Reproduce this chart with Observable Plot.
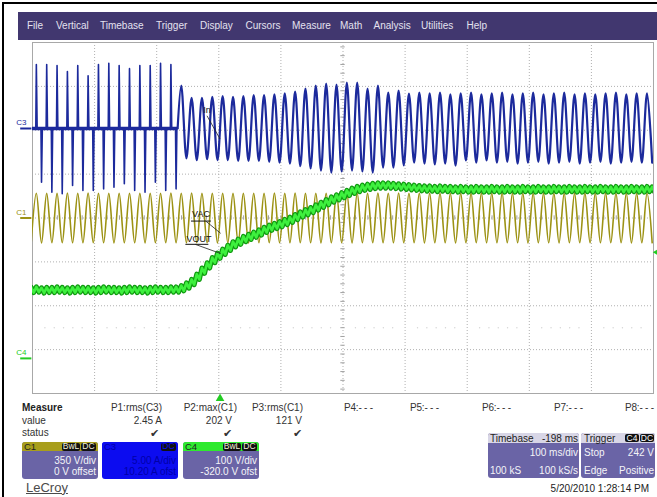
<!DOCTYPE html>
<html><head><meta charset="utf-8">
<script src="https://cdn.jsdelivr.net/npm/d3@7"></script>
<script src="https://cdn.jsdelivr.net/npm/@observablehq/plot@0.6"></script>
<style>
body{margin:0;background:#fff;font-family:"Liberation Sans",Arial,sans-serif;}
#page{position:relative;width:657px;height:497px;overflow:hidden;background:#fff;}
#page svg{position:absolute;left:0;top:0;}
</style></head><body><div id="page"></div>
<script>
// ---------- scope settings ----------
const menuItems = ["File","Vertical","Timebase","Trigger","Display","Cursors","Measure","Math","Analysis","Utilities","Help"];
const chName = ["C1","C3","C4"];
const chPerDiv = [350, 5, 100];          // V/div, A/div, V/div
const chOffset = [0, 10.2, -320];        // offsets
const chUnitPerDiv = ["350 V/div","5.00 A/div","100 V/div"];
const chOffsetText = ["0 V offset","10.20 A ofst","-320.0 V ofst"];
const timebaseDelayMs = -198;
const timePerDivMs = 100;
const mainsPeriodMs = 16.667;            // 60 Hz line
const firstPeakMs = 6.2;                 // first positive peak of VAC on screen
const triggerLevelV = 242;
const measureNames = ["P1:rms(C3)","P2:max(C1)","P3:rms(C1)","P4:- - -","P5:- - -","P6:- - -","P7:- - -","P8:- - -"];
const measureValues = ["2.45 A","202 V","121 V"];

// ---------- traces (one value per half cycle, k = -1 .. 119) ----------
// C1 VAC extremes (V)
const c1Peaks = [
-198,198,-199,197,-198,198,-197,199,-198,198,
-198,199,-197,198,-198,197,-199,198,-198,198,
-198,198,-199,197,-198,198,-197,199,-198,198,
-198,199,-197,198,-198,197,-199,198,-198,198,
-198,198,-199,197,-198,198,-197,199,-198,198,
-198,199,-197,198,-198,197,-199,198,-198,198,
-198,198,-199,197,-198,198,-197,199,-198,198,
-198,199,-197,198,-198,197,-199,198,-198,198,
-198,198,-199,197,-198,198,-197,199,-198,198,
-198,199,-197,198,-198,197,-199,198,-198,198,
-198,198,-199,197,-198,198,-197,199,-198,198,
-198,199,-197,198,-198,197,-199,198,-198,198,
-198];
// C3 input current: rectifier spikes before PFC start, k = 0 .. 27 (A)
const c3Spikes = [7.28,-6.12,7.28,-7.26,7.17,-7.44,6.5,-6.5,7.17,-7.07,
6.0,-7.07,7.28,-6.88,7.43,-6.69,7.17,-6.3,6.82,-7.07,
7.17,-7.26,7.17,-6.12,7.43,-7.07,7.28,-6.88];
// C3 input current with PFC running, k = 28 .. 119 (A)
const c3Wave = [
4.9,-3.4,3.5,-3.6,3.5,-3.5,3.6,-3.6,3.7,-3.6,
3.6,-3.7,3.7,-3.7,3.8,-3.7,3.8,-3.8,3.9,-3.9,
4.0,-4.0,4.2,-4.3,4.55,-4.56,4.89,-4.8,5.12,-5.02,
5.0,-4.9,5.23,-4.79,5.23,-4.9,4.55,-5.02,4.89,-4.45,
4.09,-4.45,4.32,-4.2,3.98,-3.88,4.09,-4.0,4.0,-4.1,
4.1,-4.0,3.9,-4.22,4.0,-3.65,4.1,-3.9,3.9,-3.65,
4.0,-3.9,4.1,-3.8,3.9,-4.0,4.0,-3.9,4.1,-3.8,
3.9,-4.0,4.0,-3.9,4.1,-3.8,3.9,-4.0,4.0,-3.9,
3.9,-3.8,4.0,-4.0,4.1,-3.9,3.9,-3.8,4.0,-3.9,
4.0,-3.9];
// C4 VOUT mean level per half cycle (V)
const c4Level = [
156,157,155,156,156,157,156,155,156,157,
156,156,155,156,157,156,156,155,156,157,
156,156,155,156,157,156,156,157,
157,160,166,174,186,200,212,224,234,243,
252,260,266,272,277,282,287,293,298,302,
306,311,316,322,328,333,338,344,350,356,
362,367,372,377,382,386,389,391,393,394,
394,394,393,392,391,390,389,388,
387,387,386,387,386,386,385,386,385,385,
386,385,385,386,385,385,386,385,385,386,
385,385,386,385,385,386,385,385,386,385,
385,386,385,385,386,385,385,386,385,385,
386,385,385,386,385];
const c4RipplePP = 12;

// ---------- derived ----------
const halfMs = mainsPeriodMs / 2;
const tAt = k => firstPeakMs + k * halfMs;
const toDiv = (v, ch) => (v + chOffset[ch]) / chPerDiv[ch];
const xMax = timePerDivMs * 10;

const c1Data = c1Peaks.map((v, i) => ({t: tAt(i - 1), d: toDiv(v, 0)}));

const c3Pre = [{t: 0, d: toDiv(0, 1)}];
c3Spikes.forEach((v, i) => {
  const t = tAt(i);
  c3Pre.push({t: t - 0.9, d: toDiv(0, 1)}, {t, d: toDiv(v, 1)}, {t: t + 1.3, d: toDiv(0, 1)});
});
c3Pre.push({t: tAt(27) + 2.5, d: toDiv(0, 1)});
const c3Post = [{t: tAt(27) + 2.5, d: toDiv(0, 1)}].concat(c3Wave.map((v, i) => ({t: tAt(28 + i), d: toDiv(v, 1)})));

const c4Data = [];
c4Level.forEach((v, i) => {
  const t = tAt(i - 1);
  c4Data.push({t, d: toDiv(v + c4RipplePP / 2, 2)}, {t: t + halfMs / 2, d: toDiv(v - c4RipplePP / 2, 2)});
});

const gridX = d3.range(1, 10).map(i => i * timePerDivMs);
const gridY = d3.range(-3, 4);
const minorY = d3.range(-39, 40, 2).map(i => i / 10);
const minorX = d3.range(1, 50).map(i => i * timePerDivMs / 5);
// faint screen pattern row between the lower grid lines
const faintDots = d3.range(0, 10).flatMap(i => [0.2, 0.35, 0.5, 0.65, 0.8].map(f => (i + f) * timePerDivMs));

const grounds = [0, 1, 2].map(ch => ({ch, d: toDiv(0, ch)}));
const chColor = ["#9c9214", "#1c2a9c", "#22cc22"];

const annotations = [
  {label: "In", t: 275, d: 2.45, lt1: 281, ld1: 2.33, lt2: 302, ld2: 1.8},
  {label: "VAC", t: 257, d: 0.1, ut1: 256, ut2: 288, ud: -0.07, lt1: 279, ld1: -0.07, lt2: 303, ld2: -0.35},
  {label: "VOUT", t: 248, d: -0.49, ut1: 247, ut2: 284, ud: -0.6, lt1: 262, ld1: -0.6, lt2: 303, ld2: -0.81}
];

const chart = Plot.plot({
  width: 657, height: 400,
  marginLeft: 32, marginRight: 4, marginTop: 42, marginBottom: 7,
  x: {domain: [0, xMax], axis: null},
  y: {domain: [-4, 4], axis: null},
  style: {background: "transparent", fontFamily: "Liberation Sans, Arial, sans-serif", overflow: "visible"},
  marks: [
    Plot.ruleX(gridX, {stroke: "#b0b0b0", strokeDasharray: "1,2", strokeWidth: 1}),
    Plot.ruleY(gridY, {stroke: "#b0b0b0", strokeDasharray: "1,2", strokeWidth: 1}),
    Plot.ruleY(minorY, {x1: xMax / 2 - 3.5, x2: xMax / 2 + 3.5, stroke: "#a0a0a0"}),
    Plot.ruleX(minorX, {y1: -0.05, y2: 0.05, stroke: "#a0a0a0"}),
    Plot.dot(faintDots, {x: d => d, y: -2.5, r: 0.7, fill: "#d4d4d4", stroke: null}),
    Plot.frame({stroke: "#a8a8a8"}),
    Plot.line(c1Data, {x: "t", y: "d", curve: "catmull-rom", stroke: chColor[0], strokeWidth: 1.6, clip: true}),
    Plot.ruleY([toDiv(0, 1)], {x1: 0, x2: tAt(27) + 2.5, stroke: chColor[1], strokeWidth: 3.5}),
    Plot.line(c3Pre, {x: "t", y: "d", stroke: chColor[1], strokeWidth: 1.6, clip: true}),
    Plot.line(c3Post, {x: "t", y: "d", curve: "catmull-rom", stroke: chColor[1], strokeWidth: 2.2, clip: true}),
    Plot.line(c4Data, {x: "t", y: "d", stroke: "#109a10", strokeWidth: 5, clip: true}),
    Plot.line(c4Data, {x: "t", y: "d", stroke: "#3ef03e", strokeWidth: 2.6, clip: true}),
    // annotations
    Plot.text(annotations, {x: "t", y: "d", text: "label", textAnchor: "start", fontSize: 9, fill: "#111"}),
    Plot.ruleY(annotations.filter(a => a.ut1), {y: "ud", x1: "ut1", x2: "ut2", stroke: "#111", strokeWidth: 1}),
    Plot.link(annotations, {x1: "lt1", y1: "ld1", x2: "lt2", y2: "ld2", stroke: "#222", strokeWidth: 0.8}),
    // channel ground markers & labels
    Plot.ruleY(grounds, {y: "d", x1: -19, x2: -1, stroke: d => chColor[d.ch], strokeWidth: 2}),
    Plot.text(grounds, {x: 0, y: "d", text: d => chName[d.ch], dx: -6, dy: -6, textAnchor: "end", fontSize: 8, fill: d => chColor[d.ch]}),
    // trigger time & level markers
    Plot.dot([{t: xMax / 2 + timebaseDelayMs}], {x: "t", y: -4, dy: 5, symbol: "triangle", r: 3.2, fill: "#22cc22", stroke: null}),
    Plot.dot([{d: toDiv(triggerLevelV, 2)}], {x: xMax, y: "d", dx: 3, symbol: "triangle", rotate: -90, r: 2.4, fill: "#22cc22", stroke: null})
  ]
});
const page = document.getElementById("page");
page.appendChild(chart);

// ---------- HTML chrome ----------
function block(x, y, w, h, bg, extra = "") {
  const d = document.createElement("div");
  d.style.cssText = `position:absolute;left:${x}px;top:${y}px;width:${w}px;height:${h}px;background:${bg};${extra}`;
  page.appendChild(d); return d;
}
function txt(s, x, y, o = {}) {
  const size = o.size || 10;
  const d = document.createElement("div");
  d.textContent = s;
  let css = `position:absolute;white-space:nowrap;font-size:${size}px;line-height:${size + 2}px;top:${y - (size + 2) / 2}px;color:${o.color || "#333"};font-weight:${o.weight || "normal"};`;
  css += o.anchor === "end" ? `right:${657 - x}px;` : o.anchor === "middle" ? `left:${x - 20}px;width:40px;text-align:center;` : `left:${x}px;`;
  d.style.cssText = css + (o.css || "");
  page.appendChild(d); return d;
}
function badge(s, x, y, w, h, color = "#eee") {
  const b = block(x, y, w, h, "#111", "border-radius:2px;");
  b.textContent = s;
  b.style.cssText += `color:${color};font-size:8.5px;line-height:${h}px;text-align:center;`;
}

block(2, 2, 655, 2, "#000");
block(2, 2, 2, 495, "#000");
block(18, 12, 639, 28, "#41376f");
const menuX = [27, 56, 100, 156, 200, 245.5, 292, 340, 373.5, 421, 466.5];
menuItems.forEach((m, i) => txt(m, menuX[i], 26, {color: "#e4e2f0", size: 10}));

// measure table
txt("Measure", 22, 408, {weight: "bold", color: "#222"});
txt("value", 22, 421);
txt("status", 22, 433);
const mEnd = [162, 237, 303];
const mValEnd = [162, 232, 302];
const mCheck = [154, 227, 297];
const mLeft = [344, 410, 482, 554, 625];
measureNames.forEach((m, i) => {
  if (i < 3) txt(m, mEnd[i], 408, {anchor: "end"});
  else txt(m, mLeft[i - 3], 408, {css: "letter-spacing:-0.2px;"});
});
measureValues.forEach((v, i) => {
  txt(v, mValEnd[i], 421, {anchor: "end"});
  txt("\u2714", mCheck[i], 433, {anchor: "middle", size: 11, color: "#333"});
});

// channel descriptor boxes
const boxX = [22, 102, 183];
const headBg = ["#a89e1c", "#0c0cf0", "#2eea2e"];
const lowBg = ["#6a64a6", "#0c0cf0", "#6a64a6"];
chName.forEach((c, i) => {
  const x = boxX[i];
  block(x, 442, 76, 37, lowBg[i], "border-radius:3px;");
  block(x, 442, 76, 9, headBg[i], "border-radius:3px 3px 0 0;");
  const dark = i === 1;
  txt(c, x + 2, 446.5, {size: 9.5, color: dark ? "#0000a8" : "#222"});
  if (i !== 1) badge("BwL", x + 40, 443, 18, 7.5, "#f0f0d8");
  badge("DC", x + 59, 443, 15, 7.5, dark ? "#0c0cf0" : "#f0f0d8");
  txt(chUnitPerDiv[i], x + 74, 460.5, {anchor: "end", color: dark ? "#0000a8" : "#f4f4f8"});
  txt(chOffsetText[i], x + 74, 471.5, {anchor: "end", color: dark ? "#0000a8" : "#f4f4f8"});
});

// timebase box
block(488, 433, 91, 45, "#6a64a6", "border-radius:3px;");
block(488, 433, 91, 10, "#d8d6e6", "border-radius:3px 3px 0 0;");
txt("Timebase", 490, 438.5, {color: "#222"});
txt(timebaseDelayMs + " ms", 578, 438.5, {anchor: "end", color: "#222"});
txt(timePerDivMs + " ms/div", 578, 452.5, {anchor: "end", color: "#f4f4f8"});
txt("100 kS", 490, 471, {color: "#f4f4f8"});
txt("100 kS/s", 578, 471, {anchor: "end", color: "#f4f4f8"});
// trigger box
block(581, 433, 74, 45, "#6a64a6", "border-radius:3px;");
block(581, 433, 74, 10, "#d8d6e6", "border-radius:3px 3px 0 0;");
txt("Trigger", 584, 438.5, {color: "#222"});
badge("C4", 625, 434, 14, 8, "#fff");
badge("DC", 640, 434, 14, 8, "#fff");
txt("Stop", 584, 452.5, {color: "#f4f4f8"});
txt(triggerLevelV + " V", 654, 452.5, {anchor: "end", color: "#f4f4f8"});
txt("Edge", 584, 471, {color: "#f4f4f8"});
txt("Positive", 654, 471, {anchor: "end", color: "#f4f4f8"});

txt("5/20/2010 1:28:14 PM", 649, 489, {anchor: "end", color: "#222"});
txt("LeCroy", 26, 487, {size: 13, color: "#4a4a4a", css: "text-decoration:underline;"});
</script></body></html>
